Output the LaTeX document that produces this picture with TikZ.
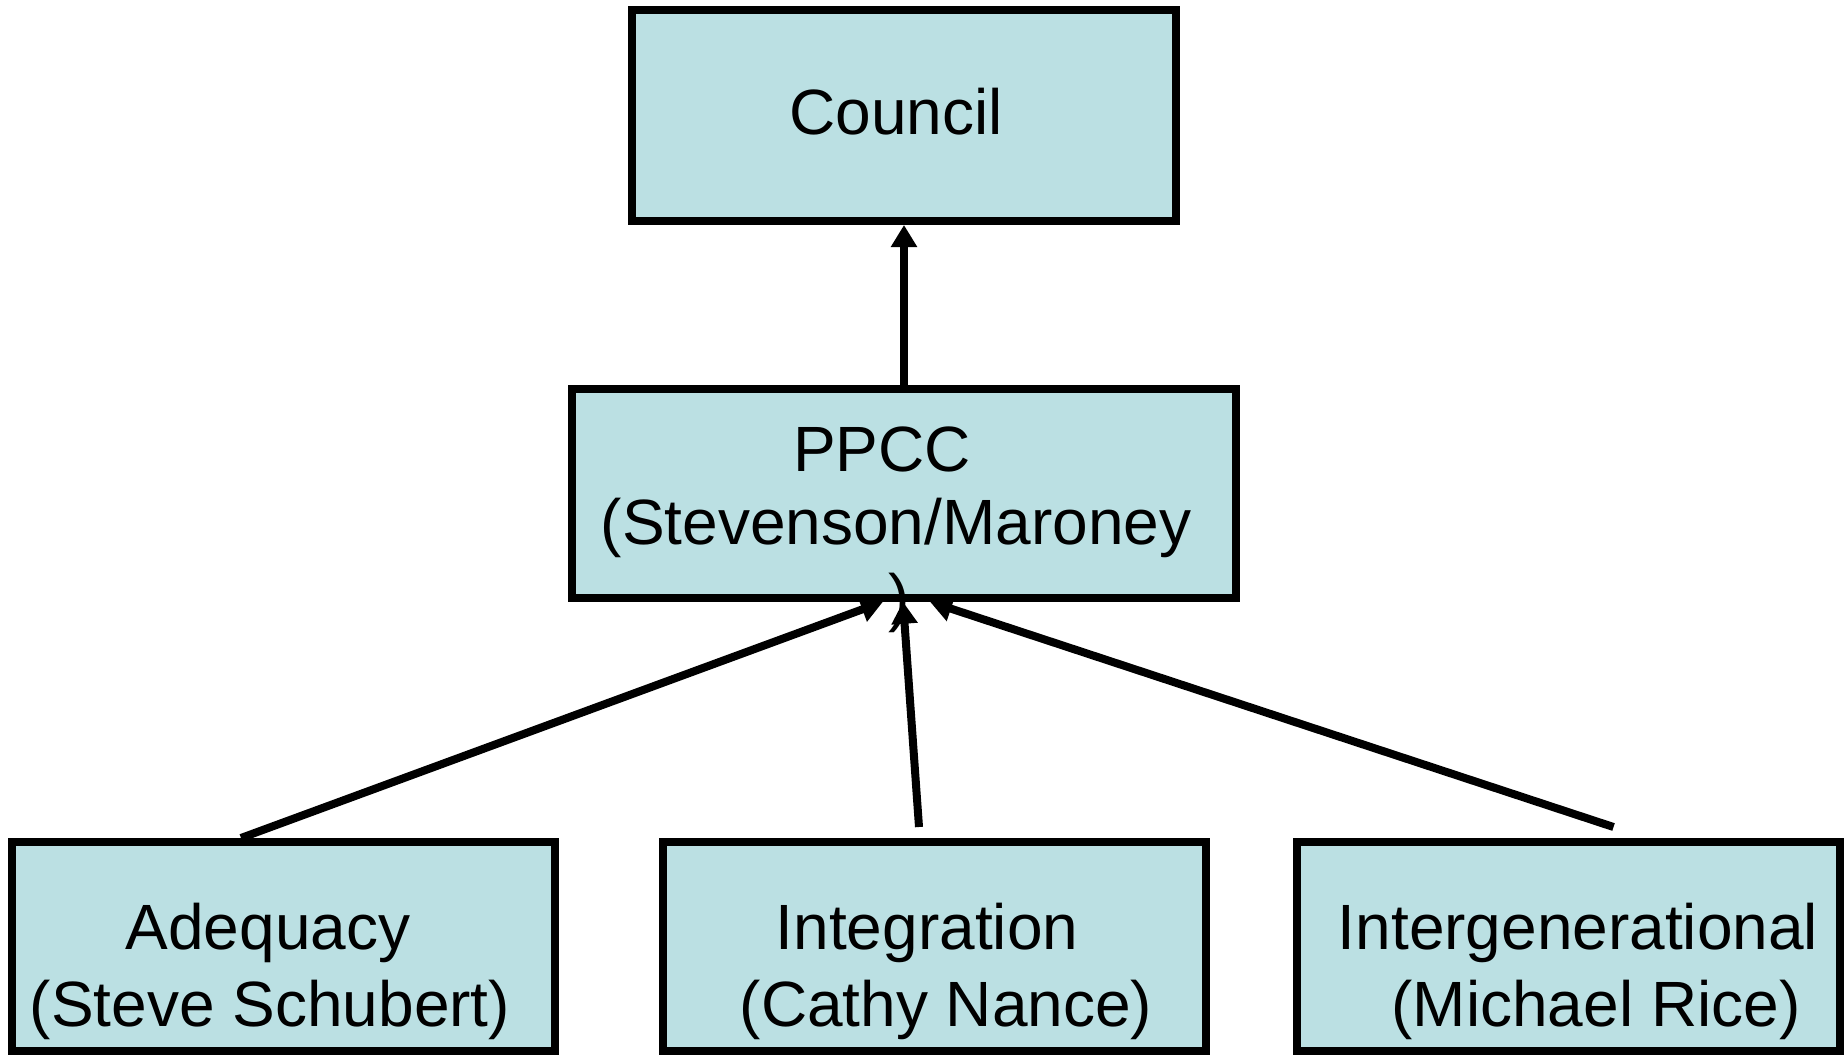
\documentclass[tikz,border=0pt]{standalone}
\usepackage{fontspec}
\setmainfont{Liberation Sans}
\usetikzlibrary{arrows.meta}
\definecolor{boxfill}{HTML}{BBE0E3}
\begin{document}
\begin{tikzpicture}[x=1pt,y=-1pt,
  orgbox/.style={draw=black, line width=8pt, fill=boxfill, rectangle, inner sep=0pt,
                 minimum width=543pt, minimum height=209pt},
  lbl/.style={anchor=base, inner sep=0pt, font=\fontsize{64}{76}\selectfont},
  conn/.style={line width=8pt, -{Triangle[width=25pt,length=22pt]}}]
\useasboundingbox (0,0) rectangle (1845,1055);
\node[orgbox, minimum width=544pt, minimum height=211pt] (council) at (904,115.5) {};
\node[orgbox, minimum width=663.5pt, minimum height=208.5pt] (ppcc) at (904,493.5) {};
\node[orgbox] (adeq) at (283.5,946.5) {};
\node[orgbox] (integ) at (934.5,946.5) {};
\node[orgbox] (intgen) at (1568.5,946.5) {};

\coordinate (integ-end) at ([xshift=-15.5pt,yshift=11pt]integ.north);
\coordinate (intgen-end) at ([xshift=45pt,yshift=11pt]intgen.north);

\draw[conn] (ppcc.north) -- (council.south);
\draw[conn] ([xshift=-42.5pt]adeq.north) -- ([xshift=-21pt]ppcc.south);
\draw[conn] (integ-end) -- ([xshift=-1pt]ppcc.south);
\draw[conn] (intgen-end) -- ([xshift=26pt]ppcc.south);

\node[lbl] (council-t) at (896,134) {Council};
\node[lbl] (ppcc-t1) at (882,471) {PPCC};
\node[lbl] (ppcc-t2) at (896,544) {(Stevenson/Maroney};
\node[lbl] (ppcc-t3) at (899,619) {)};
\node[lbl] (adeq-t1) at (268,949) {Adequacy};
\node[lbl] (adeq-t2) at (270,1026) {(Steve Schubert)};
\node[lbl] (integ-t1) at (927,949) {Integration};
\node[lbl] (integ-t2) at (946,1026) {(Cathy Nance)};
\node[lbl] (intgen-t1) at (1578,949) {Intergenerational};
\node[lbl] (intgen-t2) at (1596,1026) {(Michael Rice)};
\end{tikzpicture}
\end{document}
